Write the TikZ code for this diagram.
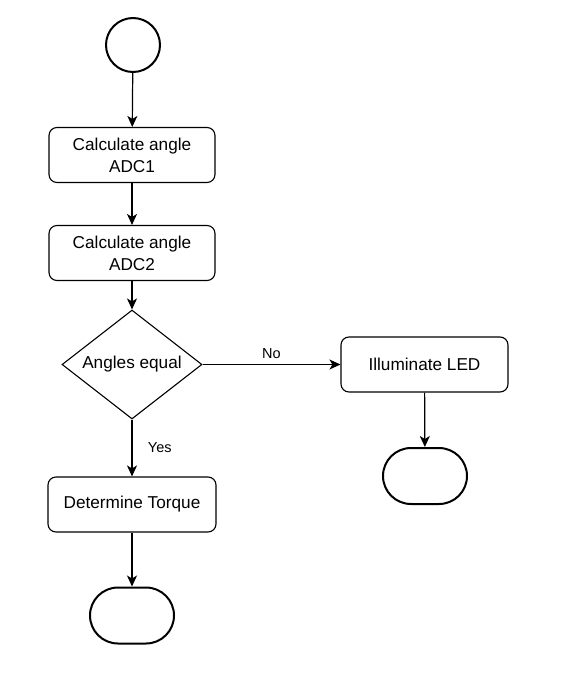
\documentclass[tikz,border=0pt]{standalone}
\usepackage{fontspec}
\setmainfont{Liberation Sans}
\usetikzlibrary{arrows.meta,shapes.geometric,shapes.misc}
\begin{document}
\begin{tikzpicture}[x=1pt,y=-1pt,
  every node/.style={font=\fontsize{17.2}{22}\selectfont},
  procbox/.style={draw, line width=1.1pt, rounded corners=8pt, minimum width=166pt, minimum height=55pt, align=center, inner sep=0pt},
  decision/.style={draw, line width=1.1pt, diamond, minimum width=140pt, minimum height=109pt, inner sep=0pt},
  terminal/.style={draw, line width=2pt, rounded rectangle, minimum width=84pt, minimum height=56pt, inner sep=0pt},
  startc/.style={draw, line width=2pt, circle, minimum size=54pt, inner sep=0pt},
  conn/.style={line width=1.2pt, -{Stealth[length=11pt,width=10pt,inset=3pt]}},
  lbl/.style={font=\fontsize{14.5}{16}\selectfont}
]
\useasboundingbox (0,0) rectangle (566,699);
\node[startc] (start) at (133,45) {};
\node[procbox] (c1) at (132,155) {Calculate angle\\ADC1};
\node[procbox] (c2) at (132,253) {Calculate angle\\ADC2};
\node[decision, label={center:Angles equal}] (d) at (132,364.5) {};
\node[procbox, minimum width=167pt] (led) at (424.5,364.5) {Illuminate LED};
\node[terminal] (t2) at (425,476) {};
\node[procbox, minimum width=168pt] (tq) at (132,504.5) {Determine Torque};
\node[terminal] (t1) at (132,615.5) {};
\draw[conn] (start) -- (c1);
\draw[conn] (c1) -- (c2);
\draw[conn] (c2) -- (d);
\draw[conn] (d) -- node[lbl, above=2pt] (no) {No} (led);
\draw[conn] (led) -- (t2);
\draw[conn] (d) -- node[lbl, right=12pt] (yes) {Yes} (tq);
\draw[conn] (tq) -- (t1);
\end{tikzpicture}
\end{document}
